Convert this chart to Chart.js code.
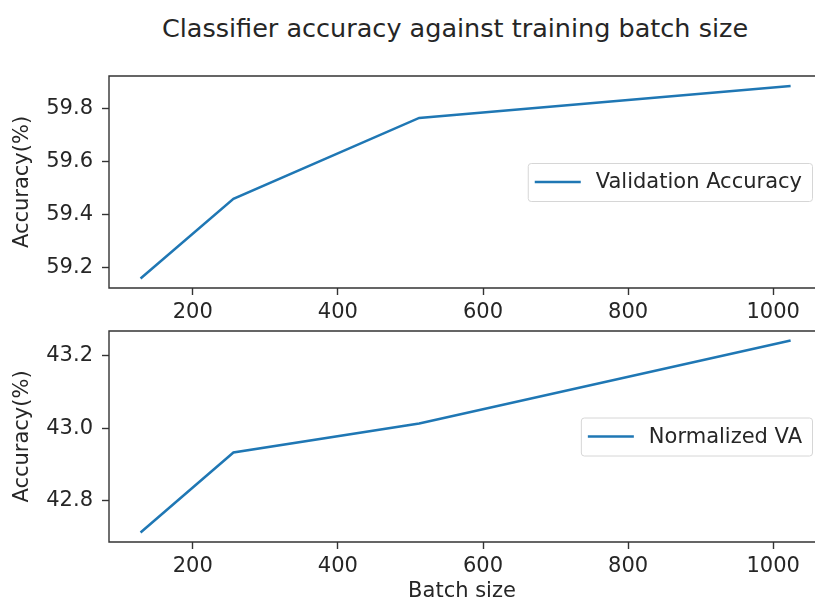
<!DOCTYPE html>
<html>
<head>
<meta charset="utf-8">
<script src="https://cdn.jsdelivr.net/npm/chart.js@4.4.0/dist/chart.umd.min.js"></script>
<style>
  html, body { margin: 0; padding: 0; background: #fff; overflow: hidden; width: 815px; height: 605px; }
  #title { position: absolute; left: 455px; top: 13px; transform: translateX(-50%); white-space: nowrap;
           font: 25.5px "DejaVu Sans", sans-serif; line-height: 30px; color: #262626; }
  canvas { position: absolute; left: 0; }
</style>
</head>
<body>
<div id="title">Classifier accuracy against training batch size</div>
<canvas id="topChart" width="815" height="325" style="top:0px"></canvas>
<canvas id="bottomChart" width="815" height="280" style="top:325px"></canvas>
<script>
const batchSizes = [128, 256, 512, 1024];
const validationAccuracy = [59.16, 59.46, 59.765, 59.885];
const normalizedVA = [42.713, 42.933, 43.013, 43.241];
const xTicks = [200, 400, 600, 800, 1000];
const topYTicks = [59.2, 59.4, 59.6, 59.8];
const bottomYTicks = [42.8, 43.0, 43.2];

const FONT = { family: '"DejaVu Sans", sans-serif', size: 21 };
const INK = '#262626';
const BLUE = '#1f77b4';

// axes spines: left, top, bottom (the right one is cut off in the original)
const framePlugin = {
  id: 'frame',
  afterDatasetsDraw(chart) {
    const a = chart.chartArea, c = chart.ctx;
    c.save();
    c.strokeStyle = '#333';
    c.lineWidth = 1.4;
    c.beginPath();
    c.moveTo(chart.width + 2, a.top);
    c.lineTo(a.left, a.top);
    c.lineTo(a.left, a.bottom);
    c.lineTo(chart.width + 2, a.bottom);
    c.stroke();
    c.restore();
  }
};

// legend box at centre right inside the plot
const boxLegend = {
  id: 'boxLegend',
  afterDraw(chart) {
    const a = chart.chartArea, c = chart.ctx;
    const ds = chart.data.datasets[0];
    c.save();
    c.font = FONT.size + 'px ' + FONT.family;
    const tw = c.measureText(ds.label).width;
    const w = 7 + 46 + 15 + tw + 10, h = 38;
    const x = chart.width - 3 - w;
    const y = (a.top + a.bottom) / 2 - h / 2;
    c.fillStyle = 'rgba(255,255,255,0.8)';
    c.strokeStyle = '#d6d6d6';
    c.lineWidth = 1;
    c.beginPath();
    c.roundRect(x + 0.5, y + 0.5, w, h, 3);
    c.fill();
    c.stroke();
    c.strokeStyle = BLUE;
    c.lineWidth = 2.5;
    c.beginPath();
    c.moveTo(x + 7, y + h / 2);
    c.lineTo(x + 53, y + h / 2);
    c.stroke();
    c.fillStyle = INK;
    c.textBaseline = 'middle';
    c.fillText(ds.label, x + 68, y + h / 2 + 1);
    c.restore();
  }
};

function makeChart(id, label, values, yTicks, yMin, yMax, padTop, xHeight, showXTitle) {
  return new Chart(document.getElementById(id), {
    type: 'line',
    data: {
      datasets: [{
        label: label,
        data: batchSizes.map((b, i) => ({ x: b, y: values[i] })),
        borderColor: BLUE,
        borderWidth: 2.5,
        pointRadius: 0,
        tension: 0,
        fill: false
      }]
    },
    options: {
      responsive: false,
      animation: false,
      devicePixelRatio: 1,
      layout: { padding: { top: padTop, right: 0, left: 0, bottom: 0 } },
      plugins: { legend: { display: false }, tooltip: { enabled: false } },
      scales: {
        x: {
          type: 'linear',
          min: 84.5,
          max: 1057.6,
          afterBuildTicks: s => { s.ticks = xTicks.map(v => ({ value: v })); },
          afterFit: s => { s.height = xHeight; s.paddingLeft = 0; s.paddingRight = 0; },
          grid: { drawOnChartArea: false, drawTicks: true, tickLength: 7, tickColor: '#333', tickWidth: 1.4 },
          border: { display: false },
          ticks: { color: INK, font: FONT, padding: 5, maxRotation: 0, callback: v => String(v) },
          title: { display: showXTitle, text: 'Batch size', color: INK, font: FONT, padding: { top: 0, bottom: 1 } }
        },
        y: {
          min: yMin,
          max: yMax,
          afterBuildTicks: s => { s.ticks = yTicks.map(v => ({ value: v })); },
          afterFit: s => { s.width = 109; s.paddingTop = 0; s.paddingBottom = 0; },
          grid: { drawOnChartArea: false, drawTicks: true, tickLength: 7, tickColor: '#333', tickWidth: 1.4 },
          border: { display: false },
          ticks: { color: INK, font: FONT, padding: 9, callback: v => v.toFixed(1) },
          title: { display: true, text: 'Accuracy(%)', color: INK, font: FONT, padding: { top: 10, bottom: 0 } }
        }
      }
    },
    plugins: [framePlugin, boxLegend]
  });
}

makeChart('topChart', 'Validation Accuracy', validationAccuracy, topYTicks, 59.124, 59.923, 76, 37, false);
makeChart('bottomChart', 'Normalized VA', normalizedVA, bottomYTicks, 42.687, 43.267, 6, 63, true);
</script>
</body>
</html>
